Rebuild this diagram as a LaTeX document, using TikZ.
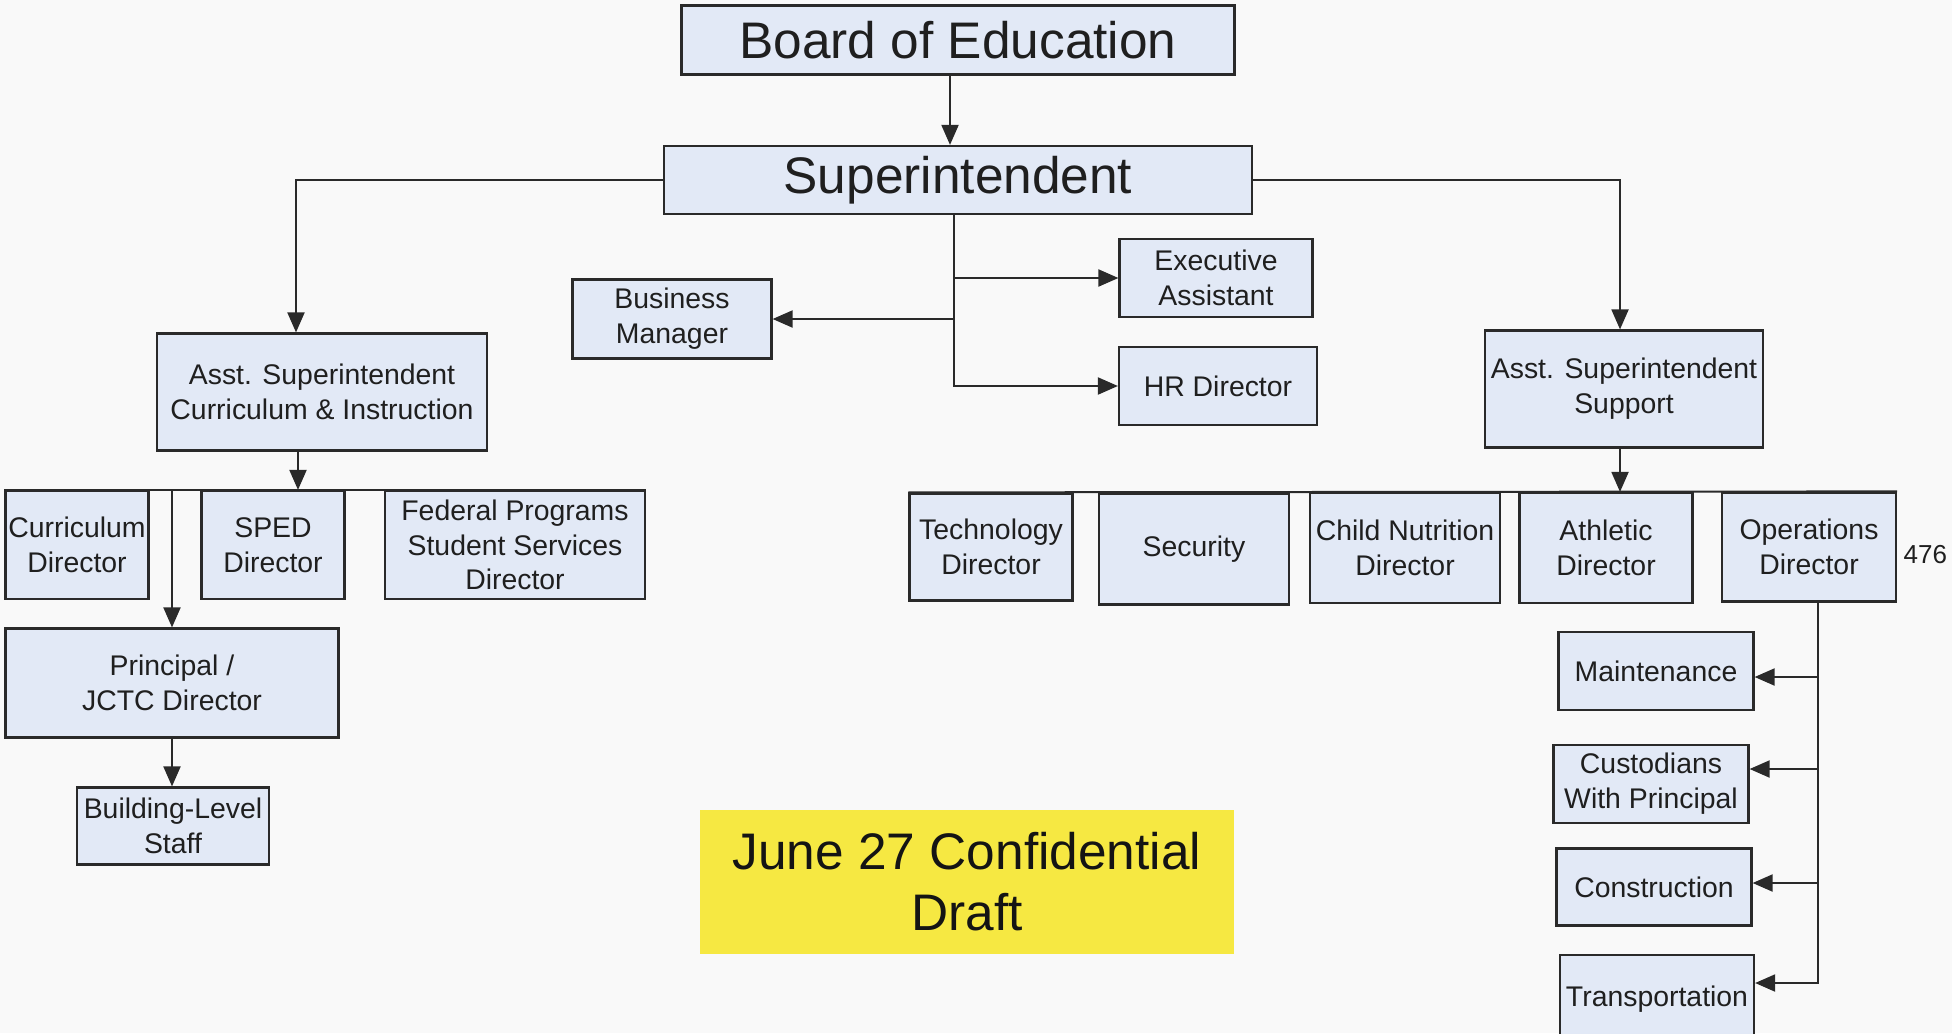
\documentclass[tikz,border=0pt]{standalone}
\usepackage{fontspec}
\setmainfont{Liberation Sans}
\usepackage{tikz}
\usetikzlibrary{arrows.meta}

\definecolor{boxfill}{RGB}{226,233,246}
\definecolor{draftyellow}{RGB}{246,232,66}
\definecolor{inkgray}{RGB}{42,42,42}
\definecolor{paper}{RGB}{249,249,249}

\tikzset{
	wh/.style 2 args={minimum width=#1*0.5pt, minimum height=#2*0.5pt},
	unit/.style={draw=inkgray, line width=1.1pt, fill=boxfill, align=center, inner sep=1pt,
		text=black!88, font=\fontsize{14.2}{17.4}\selectfont},
	big/.style={font=\fontsize{25.7}{30}\selectfont},
	>={Triangle[length=10pt,width=8.5pt]}
}

\begin{document}
\begin{tikzpicture}[x=0.5pt, y=-0.5pt, line width=1pt, draw=inkgray]
\fill[paper] (0,0) rectangle (1952,1033);
\useasboundingbox (0,0) rectangle (1952,1033);

\node[unit, big, wh={553}{69}] (board) at (958,40) {Board of Education};
\node[unit, big, wh={588}{68}] (sup) at (958,180) {Superintendent};
\node[unit, wh={193}{78}] (exec) at (1216,278) {Executive\\Assistant};
\node[unit, wh={198}{78}] (hr) at (1218,386) {HR Director};
\node[unit, wh={199}{79}] (bus) at (672,319) {Business\\Manager};
\node[unit, wh={330}{117}] (ci) at (322,392) {Asst. Superintendent\\Curriculum \& Instruction};
\node[unit, wh={278}{117}] (supp) at (1624,389) {Asst. Superintendent\\Support};

% curriculum side
\node[unit, wh={143}{108}] (curr) at (77,545) {Curriculum\\Director};
\node[unit, wh={143}{108}] (sped) at (273,545) {SPED\\Director};
\node[unit, wh={260}{108}] (fed) at (515,545) {Federal Programs\\Student Services\\Director};
\node[unit, wh={333}{109}] (prin) at (172,683) {Principal /\\JCTC Director};
\node[unit, wh={192}{77}] (bls) at (173,826) {Building-Level\\Staff};

% support side
\node[unit, wh={163}{107}] (tech) at (991,547) {Technology\\Director};
\node[unit, wh={190}{111}] (sec) at (1194,549) {Security};
\node[unit, wh={190}{110}] (cn) at (1405,548) {Child Nutrition\\Director};
\node[unit, wh={173}{110}] (ath) at (1606,548) {Athletic\\Director};
\node[unit, wh={174}{109}] (ops) at (1809,547) {Operations\\Director};
\node[unit, wh={195}{78}] (maint) at (1656,671) {Maintenance};
\node[unit, wh={195}{78}] (cust) at (1651,784) {Custodians\\With Principal};
\node[unit, wh={195}{77}] (cons) at (1654,887) {Construction};
\node[unit, wh={194}{88}] (trans) at (1657,999) {Transportation};

\node[fill=draftyellow, wh={534}{144}, align=center, text=black!92,
	font=\fontsize{25.7}{30.5}\selectfont] (draft) at (967,882) {June 27 Confidential\\Draft};
\node[anchor=east, inner sep=0pt, text=black!88, font=\fontsize{13}{15}\selectfont] (pg) at (1948,555) {476};

\path[->]
([xshift=-4pt]board.south) edge ([xshift=-4pt]sup.north)
(prin.south) edge (prin.south |- bls.north)
(prin.north |- curr.north) edge (prin.north)
([xshift=-12pt]ci.south) edge ([xshift=-12pt]ci.south |- curr.north)
([xshift=-2pt]supp.south) edge ([xshift=-2pt]supp.south |- ath.north)
;
\draw[->] ([xshift=-2pt]sup.south) |- (exec.west);
\draw[->] ([xshift=-2pt]sup.south) |- (hr.west);
\draw[->] ([xshift=-2pt]sup.south) |- (bus.east);
\draw[->] (sup.west) -| ([xshift=-13pt]ci.north);
\draw[->] (sup.east) -| ([xshift=-2pt]supp.north);
\draw (curr.north west) -- (fed.north east);
\draw (tech.north west) -- (ops.north east);

\coordinate (opsdrop) at ([xshift=4.5pt]ops.south);
\draw[->] (opsdrop) |- ([yshift=8pt]trans.east);
\path[->]
(opsdrop |- maint.east) ++(0,6) edge ([yshift=-3pt]maint.east)
(opsdrop |- cust.east) ++(0,-15) edge ([yshift=7.5pt]cust.east)
(opsdrop |- cons.east) ++(0,-4) edge ([yshift=2pt]cons.east)
;
\end{tikzpicture}
\end{document}
